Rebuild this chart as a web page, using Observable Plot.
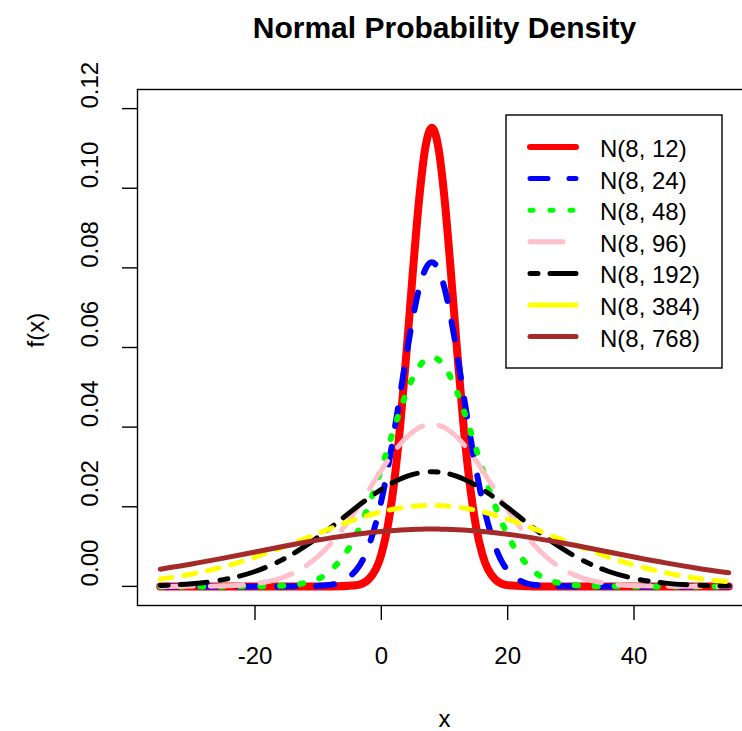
<!DOCTYPE html>
<html>
<head>
<meta charset="utf-8">
<script src="https://cdn.jsdelivr.net/npm/d3@7"></script>
<script src="https://cdn.jsdelivr.net/npm/@observablehq/plot@0.6"></script>
<style>
  body { margin: 0; background: #fff; }
</style>
</head>
<body>
<div id="chart"></div>
<script>
const xs = [-35,-30,-25,-20,-16,-12,-8,-4,-2,0,1,2,3,4,5,6,7,8,9,10,11,12,13,14,15,16,18,20,24,28,32,36,40,45,50,55];

const seriesNames = ["N(8, 12)", "N(8, 24)", "N(8, 48)", "N(8, 96)", "N(8, 192)", "N(8, 384)", "N(8, 768)"];

const red    = [0,0,0,0,0,0,0,0.00029,0.00179,0.00800,0.01495,0.02570,0.04064,0.05913,0.07915,0.09749,0.11047,0.11517,0.11047,0.09749,0.07915,0.05913,0.04064,0.02570,0.01495,0.00800,0.00179,0.00029,0,0,0,0,0,0,0,0];
const blue   = [0,0,0,0,0,0.00002,0.00039,0.00405,0.01014,0.02147,0.02934,0.03847,0.04837,0.05835,0.06751,0.07492,0.07976,0.08143,0.07976,0.07492,0.06751,0.05835,0.04837,0.03847,0.02934,0.02147,0.01014,0.00405,0.00039,0.00002,0,0,0,0,0,0];
const green  = [0,0,0,0.00002,0.00014,0.00089,0.00400,0.01285,0.02032,0.02956,0.03456,0.03958,0.04438,0.04874,0.05243,0.05523,0.05699,0.05758,0.05699,0.05523,0.05243,0.04874,0.04438,0.03958,0.03456,0.02956,0.02032,0.01285,0.00400,0.00089,0.00014,0.00002,0,0,0,0];
const pink   = [0.000003,0.00002,0.00014,0.00069,0.00203,0.00507,0.01073,0.01923,0.02419,0.02917,0.03155,0.03376,0.03575,0.03746,0.03885,0.03988,0.04051,0.04072,0.04051,0.03988,0.03885,0.03746,0.03575,0.03376,0.03155,0.02917,0.02419,0.01923,0.01073,0.00507,0.00203,0.00069,0.00020,0.00003,0.000004,0];
const black  = [0.00023,0.00067,0.00169,0.00374,0.00642,0.01016,0.01478,0.01979,0.02219,0.02437,0.02534,0.02621,0.02698,0.02762,0.02812,0.02849,0.02872,0.02879,0.02872,0.02849,0.02812,0.02762,0.02698,0.02621,0.02534,0.02437,0.02219,0.01979,0.01478,0.01016,0.00642,0.00374,0.00200,0.00082,0.00029,0.00009];
const yellow = [0.00183,0.00311,0.00493,0.00734,0.00962,0.01209,0.01459,0.01688,0.01787,0.01873,0.01910,0.01943,0.01971,0.01994,0.02012,0.02025,0.02033,0.02036,0.02033,0.02025,0.02012,0.01994,0.01971,0.01943,0.01910,0.01873,0.01787,0.01688,0.01459,0.01209,0.00962,0.00734,0.00537,0.00343,0.00205,0.00115];
const brown  = [0.00432,0.00562,0.00709,0.00864,0.00989,0.01110,0.01219,0.01311,0.01349,0.01381,0.01394,0.01406,0.01416,0.01425,0.01431,0.01436,0.01439,0.01440,0.01439,0.01436,0.01431,0.01425,0.01416,0.01406,0.01394,0.01381,0.01349,0.01311,0.01219,0.01110,0.00989,0.00864,0.00739,0.00590,0.00457,0.00342];

const xTicks = [-20, 0, 20, 40];
const yTicks = [0, 0.02, 0.04, 0.06, 0.08, 0.10, 0.12];

const titleText = "Normal Probability Density";
const xLabel = "x";
const yLabel = "f(x)";

// styles (separate from the data)
const seriesValues = [red, blue, green, pink, black, yellow, brown];
const styles = [
  {color: "#FF0000", width: 8, dash: null,          legendWidth: 6, legendDash: null},
  {color: "#0000FF", width: 6, dash: "18,21",       legendWidth: 5, legendDash: "18,21"},
  {color: "#00FF00", width: 6, dash: "3,17",        legendWidth: 5, legendDash: "3,17"},
  {color: "#FFC0CB", width: 5, dash: "33,17",       legendWidth: 5, legendDash: "33,30"},
  {color: "#000000", width: 5, dash: "8,12,27,13",  legendWidth: 5, legendDash: "8,12,27,13"},
  {color: "#FFFF00", width: 5, dash: "12,12",       legendWidth: 5, legendDash: null},
  {color: "#A52A2A", width: 5, dash: null,          legendWidth: 5, legendDash: null}
];

const tables = seriesValues.map((vals, k) => xs.map((x, i) => ({x, y: vals[i], series: seriesNames[k]})));

const lineMarks = tables.map((t, k) => Plot.line(t, {
  x: "x", y: "y",
  stroke: styles[k].color,
  strokeWidth: styles[k].width,
  strokeDasharray: styles[k].dash,
  strokeLinecap: "round",
  strokeLinejoin: "round",
  curve: "monotone-x"
}));

const chart = Plot.plot({
  width: 742,
  height: 731,
  marginLeft: 137,
  marginRight: -9,
  marginTop: 89,
  marginBottom: 126,
  style: {fontFamily: "'Liberation Sans', Arial, sans-serif", background: "white", overflow: "hidden", color: "#000"},
  x: {domain: [-38.6, 58.6], axis: null},
  y: {domain: [-0.0048, 0.1248], axis: null},
  marks: [
    ...lineMarks,
    Plot.frame({stroke: "#000", strokeWidth: 1.4}),
    Plot.tickX(xTicks, {x: d => d, insetTop: 516, insetBottom: -15, stroke: "#000", strokeWidth: 1.4}),
    Plot.tickY(yTicks, {y: d => d, insetLeft: -15, insetRight: 614, stroke: "#000", strokeWidth: 1.4}),
    Plot.text(xTicks, {x: d => d, frameAnchor: "bottom", dy: 58, lineAnchor: "bottom", text: d => String(d), fontSize: 24, fill: "#000"}),
    Plot.text(yTicks, {y: d => d, frameAnchor: "left", dx: -40, rotate: -90, lineAnchor: "bottom", text: d => d.toFixed(2), fontSize: 24, fill: "#000"}),
    Plot.text([titleText], {frameAnchor: "top", dy: -52, lineAnchor: "bottom", text: d => d, fontSize: 30, fontWeight: "bold", fill: "#000"}),
    Plot.text([xLabel], {frameAnchor: "bottom", dy: 121, lineAnchor: "bottom", text: d => d, fontSize: 24, fill: "#000"}),
    Plot.text([yLabel], {frameAnchor: "left", dx: -94, rotate: -90, lineAnchor: "bottom", text: d => d, fontSize: 24, fill: "#000"})
  ]
});

document.getElementById("chart").appendChild(chart);

// legend box (top right, like R's legend())
const svg = d3.select(chart);
const lg = svg.append("g").attr("class", "legend").attr("text-anchor", "start");
lg.append("rect")
  .attr("x", 506).attr("y", 115).attr("width", 216).attr("height", 253)
  .attr("fill", "white").attr("stroke", "#000").attr("stroke-width", 1.4);
seriesNames.forEach((name, k) => {
  const cy = 147 + k * 31.6;
  const s = styles[k];
  const ln = lg.append("line")
    .attr("x1", 530).attr("x2", 576).attr("y1", cy).attr("y2", cy)
    .attr("stroke", s.color).attr("stroke-width", s.legendWidth)
    .attr("stroke-linecap", "round");
  if (s.legendDash) ln.attr("stroke-dasharray", s.legendDash);
  lg.append("text")
    .attr("x", 600).attr("y", cy + 10)
    .attr("text-anchor", "start")
    .attr("font-size", 24).attr("fill", "#000")
    .attr("font-family", "'Liberation Sans', Arial, sans-serif")
    .text(name);
});
</script>
</body>
</html>
